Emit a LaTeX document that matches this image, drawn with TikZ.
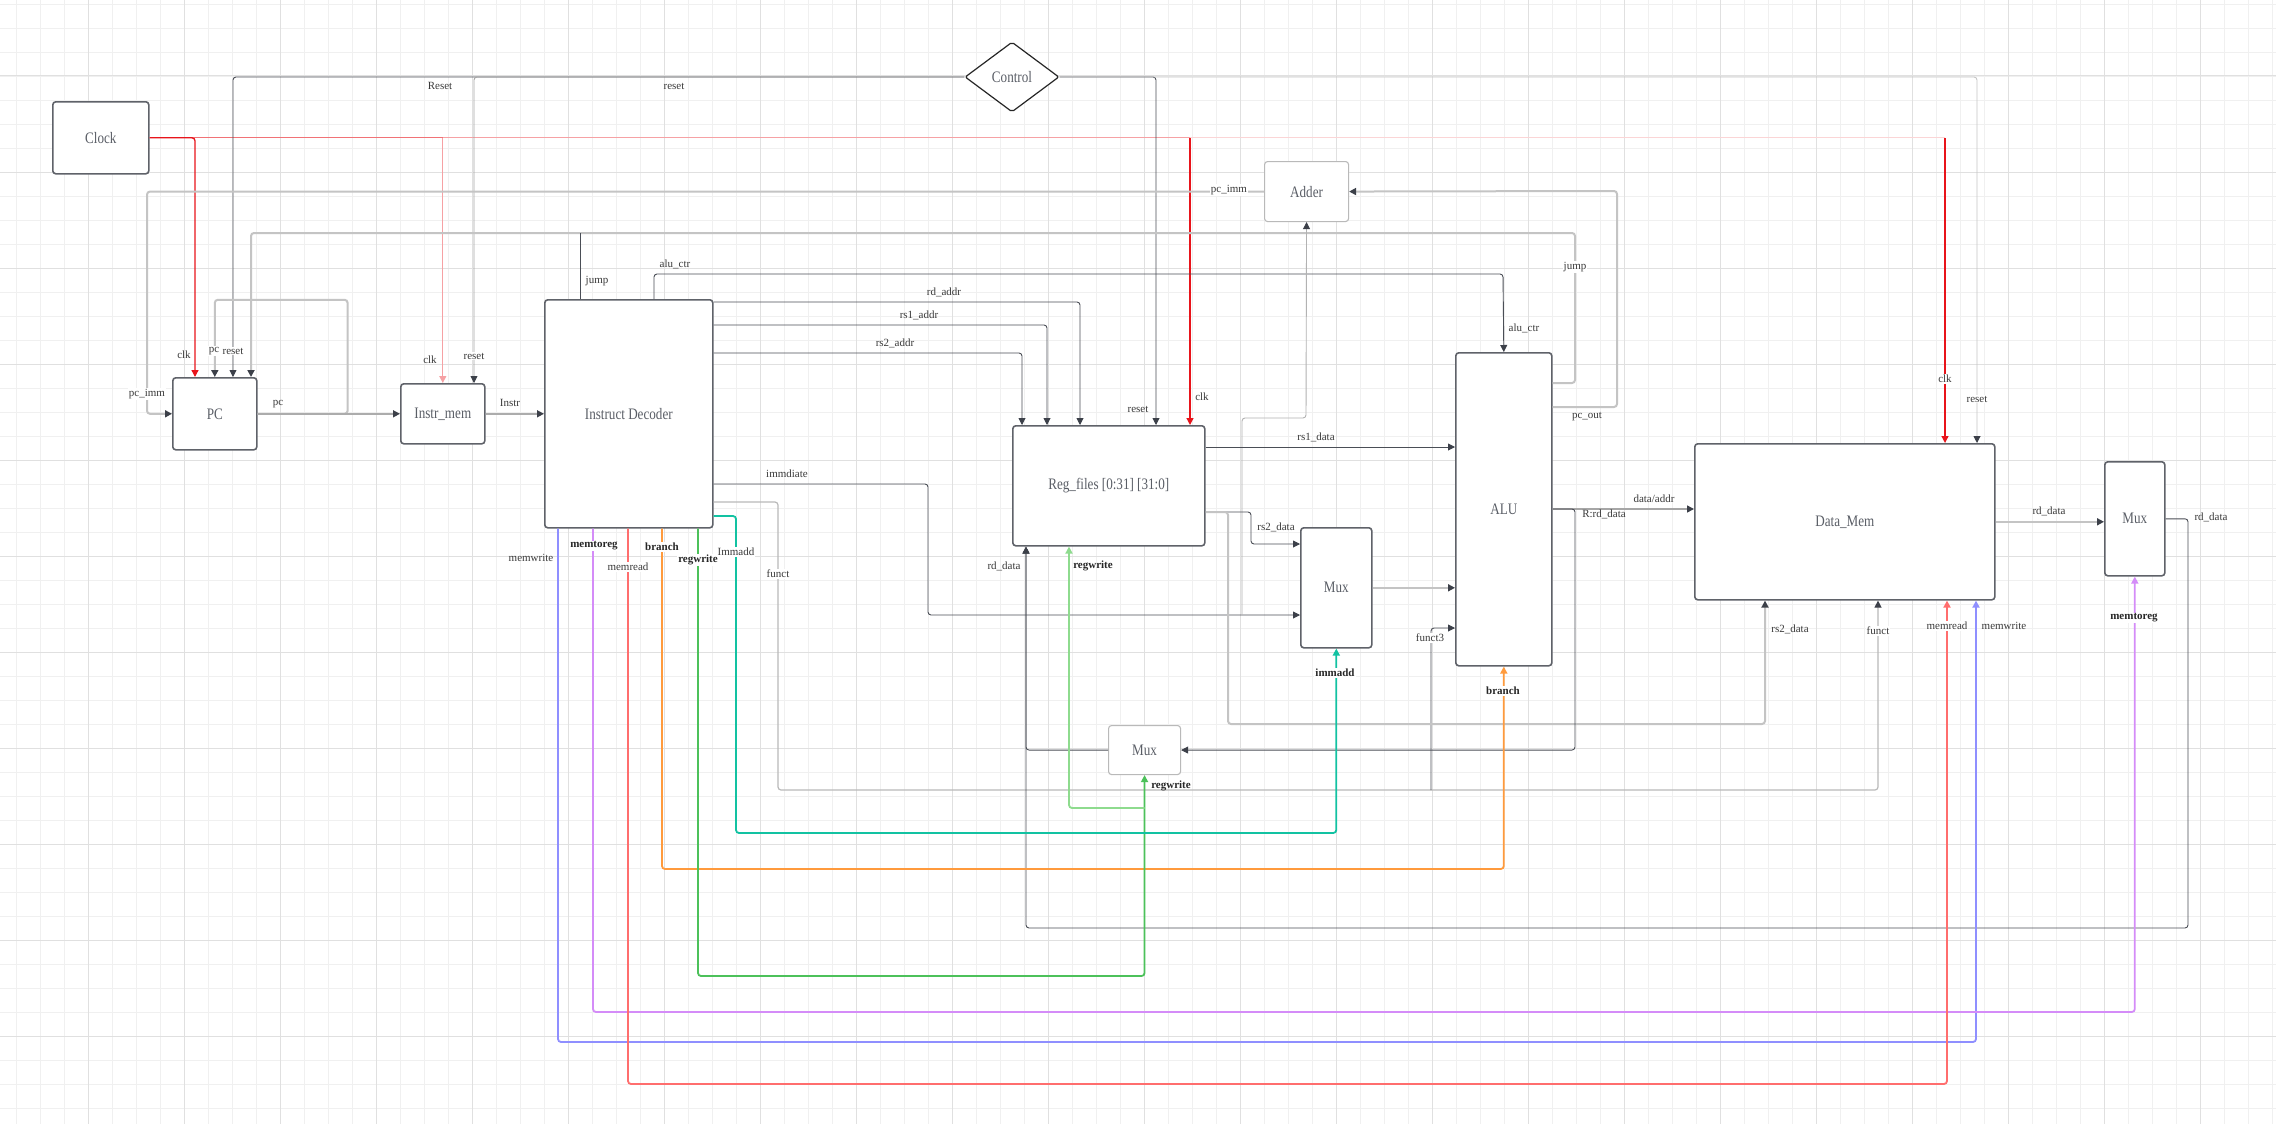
\documentclass[tikz,border=0pt]{standalone}
\usepackage{fontspec}
\setmainfont{Liberation Serif}
\newfontfamily\boxfont{Liberation Serif}[FakeStretch=0.82]
\usetikzlibrary{positioning,arrows.meta,shapes.geometric}
\definecolor{boxc}{HTML}{5F6269}
\definecolor{txtc}{HTML}{5A5E66}
\definecolor{lblc}{HTML}{3A3A3A}
\definecolor{wirec}{HTML}{4A4E56}
\definecolor{wirelc}{HTML}{C4C4C4}
\definecolor{tipc}{HTML}{3C4049}
\definecolor{mwcol}{HTML}{8F8FFF}
\definecolor{mtrcol}{HTML}{D48CF8}
\definecolor{mrcol}{HTML}{FF6E6E}
\definecolor{brcol}{HTML}{FF9A3C}
\definecolor{rwcol}{HTML}{4CC15A}
\definecolor{rwlcol}{HTML}{8EDB8E}
\definecolor{imcol}{HTML}{12C2A2}
\definecolor{clkcol}{HTML}{E8141B}

\begin{document}
\begin{tikzpicture}[
        x=1pt, y=-1pt,
        font=\fontsize{11}{12}\selectfont,
        >={Triangle[length=7pt,width=7pt]},
        blk/.style={rectangle, rounded corners=3pt, draw=boxc, line width=1.6pt, fill=white,
                    anchor=north west, inner sep=0pt, text=txtc,
                    font=\boxfont\fontsize{16}{18}\selectfont},
        blklt/.style={blk, draw=gray!55, line width=1.1pt},
        lbl/.style={inner sep=1pt, text=lblc},
        lblb/.style={lbl, font=\fontsize{11}{12}\selectfont\bfseries, text=black!85},
        lblon/.style={lbl, fill=white},
        lblonb/.style={lblb, fill=white},
        wire/.style={draw=wirec, line width=0.9pt, rounded corners=3pt},
        wirelt/.style={wire, draw=wirelc, line width=2pt},
        arr/.style={-{Triangle[length=7pt,width=7pt,color=tipc]}},
        ctl/.style={line width=1.8pt, rounded corners=3pt, ->},
        clkwire/.style={draw=clkcol, line width=1.3pt, rounded corners=3pt, ->},
        gridminor/.style={draw=gray!12, line width=0.8pt},
        gridmajor/.style={draw=gray!24, line width=1pt},
    ]
        \fill[white] (0,0) rectangle (2276,1124);
        \useasboundingbox (0,0) rectangle (2276,1124);

        % canvas grid
        \draw[gridminor, step=24pt, shift={(16,4)}] (-16,1120) grid (2260,-4);
        \draw[gridmajor, step=96pt, shift={(88,76)}] (-88,1048) grid (2188,-76);

        % blocks
        \node[blk, minimum width=96pt, minimum height=72pt] (clock) at (52,101) {Clock};
        \node[blk, minimum width=84pt, minimum height=72pt] (pc) at (172,377) {PC};
        \node[blk, minimum width=84pt, minimum height=60pt] (imem) at (400,383) {Instr\_mem};
        \node[blk, minimum width=168pt, minimum height=228pt] (dec) at (544,299) {Instruct Decoder};
        \node[diamond, aspect=1.34, draw=black!85, line width=1.2pt, fill=white,
              minimum width=94pt, minimum height=70pt, inner sep=0pt, rounded corners=2pt,
              text=txtc, font=\boxfont\fontsize{16}{18}\selectfont] (ctrl) at (1012,77) {Control};
        \node[blklt, minimum width=84pt, minimum height=60pt] (adder) at (1264,161) {Adder};
        \node[blk, minimum width=192pt, minimum height=120pt] (reg) at (1012,425) {Reg\_files [0:31] [31:0]};
        \node[blk, minimum width=96pt, minimum height=313pt] (alu) at (1455,352) {ALU};
        \node[blk, minimum width=71pt, minimum height=120pt] (muxa) at (1300,527) {Mux};
        \node[blklt, minimum width=72pt, minimum height=49pt] (muxb) at (1108,725) {Mux};
        \node[blk, minimum width=300pt, minimum height=156pt] (dmem) at (1694,443) {Data\_Mem};
        \node[blk, minimum width=60pt, minimum height=114pt] (muxc) at (2104,461) {Mux};

        % clock
        \coordinate (tapI) at (imem.north |- clock.east);
        \coordinate (tapR) at (1190,0 |- clock.east);
        \coordinate (tapD) at (1945,0 |- clock.east);
        \draw[clkwire, -, draw=clkcol!18] (clock.east) -- (tapD);
        \draw[clkwire, -, draw=clkcol!40] (clock.east) -- (tapR);
        \draw[clkwire, -, draw=clkcol!60] (clock.east) -- (tapI);
        \draw[clkwire] (clock.east) -| (pc.north -| 195,0);
        \draw[clkwire, draw=clkcol!40] (tapI) -- (imem.north);
        \draw[clkwire] (tapR) -- (reg.north -| tapR);
        \draw[clkwire] (tapD) -- (dmem.north -| tapD);

        % reset from control
        \draw[wire, arr] (ctrl.west) -| (pc.north -| 233,0);
        \draw[wire, arr, draw=gray!70] (ctrl.west) -| (imem.north -| 474,0);
        \draw[wire, arr] (ctrl.east) -| (reg.north -| 1156,0);
        \draw[wire, arr, draw=gray!45] (ctrl.east) -| (dmem.north -| 1977,0);

        % fetch
        \draw[wirelt, arr] (pc.east) -| ++(90,-114) -| (pc.north);
        \draw[wire, arr, draw=gray!65, line width=1.5pt] (pc.east) -- (imem.west);
        \draw[wire, arr, draw=gray!65, line width=1.5pt] (imem.east) -- (dec.west);
        \draw[wirelt, arr] (adder.west) -| (pc.west -| 147,0) -- (pc.west);
        \draw[wirelt, arr] (alu.east |- 0,383) -| (1575,233) -| (pc.north -| 251,0);
        \draw[wire] (dec.north -| 580,0) -- ++(0,-66);
        \draw[wirelt, arr] (alu.east |- 0,407) -| (1617,191) -- (adder.east);

        % decoder outputs
        \draw[wire, arr] (dec.north -| 654,0) |- (1503,274) -- (alu.north);
        \draw[wire, arr] (dec.east |- 0,302) -| (reg.north -| 1080,0);
        \draw[wire, arr] (dec.east |- 0,325) -| (reg.north -| 1047,0);
        \draw[wire, arr] (dec.east |- 0,353) -| (reg.north -| 1022,0);
        \draw[wire, arr] (dec.east |- 0,484) -| (928,615) -- (muxa.west |- 0,615);
        \coordinate (immtap) at (1242,615);
        \draw[wire, arr, draw=gray!60] (immtap) |- (1306,418) -- (adder.south);
        \draw[wirelt, arr, line width=1.2pt, draw=gray!55] (dec.east |- 0,502) -| (778,790) -| (dmem.south -| 1878,0);
        \coordinate (f3tap) at (1431,790);
        \draw[wire, arr] (f3tap) |- (alu.west |- 0,628);

        % register file / alu
        \draw[wire, arr] (reg.east |- 0,447) -- (alu.west |- 0,447);
        \draw[wire, arr] (reg.east |- 0,512) -| (1251,544) -- (muxa.west |- 0,544);
        \draw[wirelt, arr] (reg.east |- 0,512) -| (1228,724) -| (dmem.south -| 1765,0);
        \draw[wirelt, arr] (muxa.east) -- (alu.west |- muxa.east);
        \draw[wire, arr, draw=gray!70, line width=1.5pt] (alu.east |- 0,509) -- (dmem.west |- 0,509);
        \draw[wire, arr] (alu.east |- 0,509) -| (muxb.east -| 1575,0) -- (muxb.east);

        % memory / write back
        \draw[wirelt, arr] (dmem.east) -- (muxc.west |- dmem.east);
        \draw[wire, arr] (muxc.east) -| (2188,928) -| (reg.south -| 1026,0);
        \draw[wire, arr] (muxb.west) -| (reg.south -| 1026,0);

        % control signals
        \draw[ctl, draw=mwcol] (dec.south -| 558,0) |- (1976,1042) -- (dmem.south -| 1976,0);
        \draw[ctl, draw=mtrcol] (dec.south -| 593,0) |- (muxc.south |- 0,1012) -- (muxc.south);
        \draw[ctl, draw=mrcol] (dec.south -| 628,0) |- (1947,1084) -- (dmem.south -| 1947,0);
        \draw[ctl, draw=brcol] (dec.south -| 662,0) |- (alu.south |- 0,869) -- (alu.south);
        \draw[ctl, draw=rwcol] (dec.south -| 698,0) |- (muxb.south |- 0,976) -- (muxb.south);
        \coordinate (rwtap) at (muxb.south |- 0,808);
        \draw[ctl, draw=rwlcol] (rwtap) -| (reg.south -| 1069,0);
        \draw[ctl, draw=imcol] (dec.east |- 0,516) -| (736,833) -| (muxa.south);

        % labels
        \node[lbl] (lReset) at (440,86) {Reset};
        \node[lbl] (lrstC) at (674,86) {reset};
        \node[lbl] (lclkP) at (184,355) {clk};
        \node[lblon] (lpcP) at (214,351) {pc};
        \node[lblon] (lrstP) at (233,351) {reset};
        \node[lbl] (lclkI) at (430,360) {clk};
        \node[lblon] (lrstI) at (474,356) {reset};
        \node[lbl] (lpc) at (278,404) {pc};
        \node[lbl] (linstr) at (510,403) {Instr};
        \node[lblon] (lpcimmL) at (147,394) {pc\_imm};
        \node[lblon] (lpcimmR) at (1229,190) {pc\_imm};
        \node[lbl] (ljumpD) at (597,281) {jump};
        \node[lblon] (ljumpA) at (1575,267) {jump};
        \node[lbl] (laluD) at (675,264) {alu\_ctr};
        \node[lbl] (laluA) at (1524,328) {alu\_ctr};
        \node[lbl] (lrd) at (944,292) {rd\_addr};
        \node[lbl] (lrs1) at (919,315) {rs1\_addr};
        \node[lbl] (lrs2) at (895,343) {rs2\_addr};
        \node[lbl] (lrstR) at (1138,409) {reset};
        \node[lbl] (lclkR) at (1202,397) {clk};
        \node[lblon] (lclkD) at (1945,379) {clk};
        \node[lblon] (lrstD) at (1977,399) {reset};
        \node[lbl] (lpcout) at (1587,417) {pc\_out};
        \node[lbl] (lrs1d) at (1316,437) {rs1\_data};
        \node[lbl] (limm) at (787,474) {immdiate};
        \node[lbl] (lrs2d) at (1276,527) {rs2\_data};
        \node[lbl] (lrdata) at (1004,566) {rd\_data};
        \node[lblb] (lrwR) at (1093,566) {regwrite};
        \node[lblon] (lfunct) at (778,574) {funct};
        \node[lbl] (lmw) at (531,558) {memwrite};
        \node[lblonb] (lmtr) at (594,546) {memtoreg};
        \node[lblon] (lmr) at (628,567) {memread};
        \node[lblonb] (lbr) at (662,547) {branch};
        \node[lblonb] (lrw) at (698,560) {regwrite};
        \node[lblon] (limmadd) at (736,552) {Immadd};
        \node[lblonb] (limmaddM) at (1335,673) {immadd};
        \node[lblon] (lf3) at (1430,638) {funct3};
        \node[lblonb] (lbrA) at (1503,691) {branch};
        \node[lbl] (lrres) at (1604,514) {R:rd\_data};
        \node[lbl] (ldaddr) at (1654,499) {data/addr};
        \node[lbl] (lrs2D) at (1790,629) {rs2\_data};
        \node[lblon] (lfunctD) at (1878,631) {funct};
        \node[lblon] (lmrD) at (1947,626) {memread};
        \node[lbl] (lmwD) at (2004,626) {memwrite};
        \node[lblonb] (lmtrM) at (2134,618) {memtoreg};
        \node[lbl] (lrdD) at (2049,511) {rd\_data};
        \node[lbl] (lrdM) at (2211,517) {rd\_data};
        \node[lblb] (lrwM) at (1171,786) {regwrite};
    \end{tikzpicture}
\end{document}
